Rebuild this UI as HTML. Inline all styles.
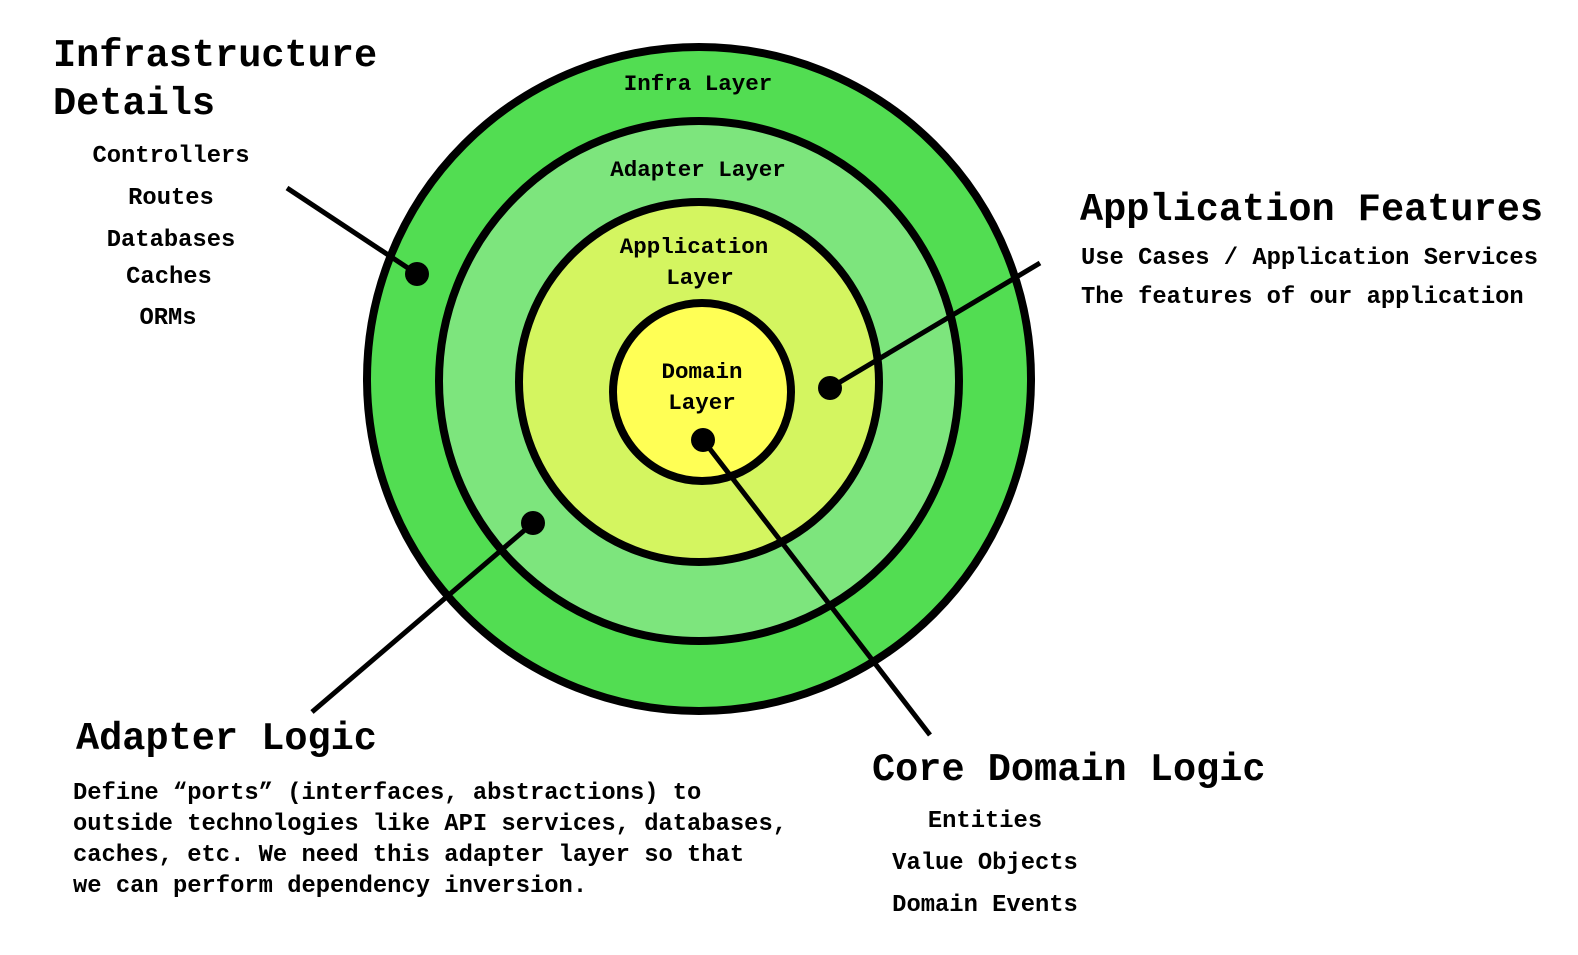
<!DOCTYPE html>
<html><head><meta charset="utf-8"><style>
html,body{margin:0;padding:0;background:#fff;}
svg text{font-family:"Liberation Mono",monospace;font-weight:bold;fill:#000;}
</style></head><body>
<svg width="1578" height="950" viewBox="0 0 1578 950" xmlns="http://www.w3.org/2000/svg">
<circle cx="699" cy="379" r="332" fill="#52dd52" stroke="#000" stroke-width="8"/>
<circle cx="699" cy="381" r="260" fill="#7de57d" stroke="#000" stroke-width="8"/>
<circle cx="699" cy="382" r="180" fill="#d4f560" stroke="#000" stroke-width="8"/>
<circle cx="702" cy="392" r="89" fill="#ffff55" stroke="#000" stroke-width="8"/>
<g font-size="22.5" text-anchor="middle">
<text x="698" y="90">Infra Layer</text>
<text x="698" y="176">Adapter Layer</text>
<text x="694" y="253">Application</text>
<text x="700" y="284">Layer</text>
<text x="702" y="378">Domain</text>
<text x="702" y="409">Layer</text>
</g>
<g stroke="#000" stroke-width="5">
<line x1="287" y1="188" x2="417" y2="274"/>
<line x1="1040" y1="263" x2="830" y2="388"/>
<line x1="312" y1="712" x2="533" y2="523"/>
<line x1="703" y1="440" x2="930" y2="735"/>
</g>
<g fill="#000">
<circle cx="417" cy="274" r="12"/>
<circle cx="830" cy="388" r="12"/>
<circle cx="533" cy="523" r="12"/>
<circle cx="703" cy="440" r="12"/>
</g>
<g font-size="38.6">
<text x="53" y="66">Infrastructure</text>
<text x="53" y="114">Details</text>
<text x="1080" y="220">Application Features</text>
<text x="76" y="749">Adapter Logic</text>
<text x="872" y="780">Core Domain Logic</text>
</g>
<g font-size="23.8" text-anchor="middle">
<text x="171" y="162">Controllers</text>
<text x="171" y="204">Routes</text>
<text x="171" y="246">Databases</text>
<text x="169" y="283">Caches</text>
<text x="168" y="324">ORMs</text>
<text x="985" y="827">Entities</text>
<text x="985" y="869">Value Objects</text>
<text x="985" y="911">Domain Events</text>
</g>
<g font-size="23.8">
<text x="1081" y="264">Use Cases / Application Services</text>
<text x="1081" y="303">The features of our application</text>
<text x="73" y="799">Define “ports” (interfaces, abstractions) to</text>
<text x="73" y="830">outside technologies like API services, databases,</text>
<text x="73" y="861">caches, etc. We need this adapter layer so that</text>
<text x="73" y="892">we can perform dependency inversion.</text>
</g>
</svg>
</body></html>
